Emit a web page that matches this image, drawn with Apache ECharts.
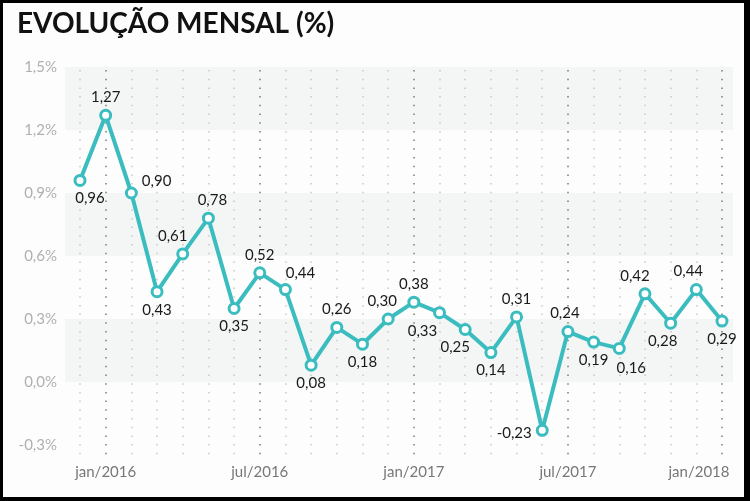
<!DOCTYPE html>
<html>
<head>
<meta charset="utf-8">
<script src="https://cdn.jsdelivr.net/npm/echarts@6/dist/echarts.min.js"></script>
<style>
html,body{margin:0;padding:0;background:#000;width:750px;height:501px;overflow:hidden;}
#c{position:absolute;left:3px;top:3px;width:741px;height:494px;}
</style>
</head>
<body>
<div id="c"></div>
<script>
// ---- data ----
const categories = ['dez/2015','jan/2016','fev/2016','mar/2016','abr/2016','mai/2016','jun/2016','jul/2016','ago/2016','set/2016','out/2016','nov/2016','dez/2016','jan/2017','fev/2017','mar/2017','abr/2017','mai/2017','jun/2017','jul/2017','ago/2017','set/2017','out/2017','nov/2017','dez/2017','jan/2018'];
const values = [0.96,1.27,0.90,0.43,0.61,0.78,0.35,0.52,0.44,0.08,0.26,0.18,0.30,0.38,0.33,0.25,0.14,0.31,-0.23,0.24,0.19,0.16,0.42,0.28,0.44,0.29];
const yTicks = [-0.3, 0.0, 0.3, 0.6, 0.9, 1.2, 1.5];
const titleText = 'EVOLUÇÃO MENSAL (%)';

// ---- label placement (style) ----
const labelStyle = {
  0:{position:'bottom',offset:[10,0]},
  1:{position:'top'},
  2:{position:'right',offset:[0,-12]},
  3:{position:'bottom'},
  4:{position:'top',offset:[-10,0]},
  5:{position:'top',offset:[4,0]},
  6:{position:'bottom'},
  7:{position:'top'},
  8:{position:'top',offset:[15,2]},
  9:{position:'bottom'},
  10:{position:'top'},
  11:{position:'bottom'},
  12:{position:'top',offset:[-6,0]},
  13:{position:'top'},
  14:{position:'bottom',offset:[-17,0]},
  15:{position:'bottom',offset:[-10,0]},
  16:{position:'bottom'},
  17:{position:'top'},
  18:{position:'left',offset:[0,3]},
  19:{position:'top',offset:[-3,0]},
  20:{position:'bottom'},
  21:{position:'bottom',offset:[12,2]},
  22:{position:'top',offset:[-10,0]},
  23:{position:'bottom',offset:[-8,0]},
  24:{position:'top',offset:[-8,0]},
  25:{position:'bottom'}
};

const fmt = v => v.toFixed(2).replace('.', ',');
const yMin = yTicks[0], yMax = yTicks[yTicks.length-1];
const pxPerUnit = 63/0.3;
const seriesData = values.map((v,i)=>({value:v,label:Object.assign({},labelStyle[i])}));
const majorIdx = new Set(categories.map((c,i)=>(c.startsWith('jan')||c.startsWith('jul'))?i:-1).filter(i=>i>=0));
const lastIdx = categories.length-1;

const chart = echarts.init(document.getElementById('c'));
chart.setOption({
  backgroundColor:'#fdfdfd',
  animation:false,
  title:{text:titleText,left:14,top:7,padding:0,textStyle:{fontFamily:'Lato',fontWeight:'bold',fontSize:28,color:'#111'}},
  grid:[
    {left:62,top:64,width:668,height:378,outerBoundsMode:'none',containLabel:false},
    {left:77,top:67,width:642,height:387,outerBoundsMode:'none',containLabel:false}
  ],
  xAxis:[
    {gridIndex:0,type:'value',show:false,min:0,max:1},
    {gridIndex:1,type:'category',data:categories,boundaryGap:false,
      axisLine:{show:false},axisTick:{show:false},
      axisLabel:{interval:(i)=>majorIdx.has(i),margin:8,color:'#777',fontFamily:'Lato',fontSize:15,
        formatter:(v,i)=> i===lastIdx ? '{last|'+v+'}' : v,
        rich:{last:{color:'#777',fontFamily:'Lato',fontSize:15,padding:[0,46,0,0]}}},
      splitLine:{show:true,interval:0,lineStyle:{color:['#c8c8c8','#7a7a7a','#c8c8c8','#c8c8c8','#c8c8c8','#c8c8c8'],width:1.5,type:[1.5,7.2]}}
    }
  ],
  yAxis:[
    {gridIndex:0,type:'value',min:yMin,max:yMax,interval:0.3,
      axisLine:{show:false},axisTick:{show:false},splitLine:{show:false},
      axisLabel:{margin:8,color:'#b0b0b0',fontFamily:'Lato',fontSize:15,formatter:v=>v.toFixed(1).replace('.',',')+'%'},
      splitArea:{show:true,areaStyle:{color:['rgba(0,0,0,0)','#f4f6f6']}}
    },
    {gridIndex:1,type:'value',show:false,min:yMin-12/pxPerUnit,max:yMax-3/pxPerUnit,splitLine:{show:false}}
  ],
  series:[{
    type:'line',xAxisIndex:1,yAxisIndex:1,data:seriesData,
    lineStyle:{color:'#3bbdc0',width:4},
    symbol:'circle',symbolSize:10,
    itemStyle:{color:'#fff',borderColor:'#3bbdc0',borderWidth:3},
    label:{show:true,distance:4,color:'#1a1a1a',fontFamily:'Lato',fontSize:15,formatter:p=>fmt(p.value)},
    z:5
  }]
});
</script>
</body>
</html>
